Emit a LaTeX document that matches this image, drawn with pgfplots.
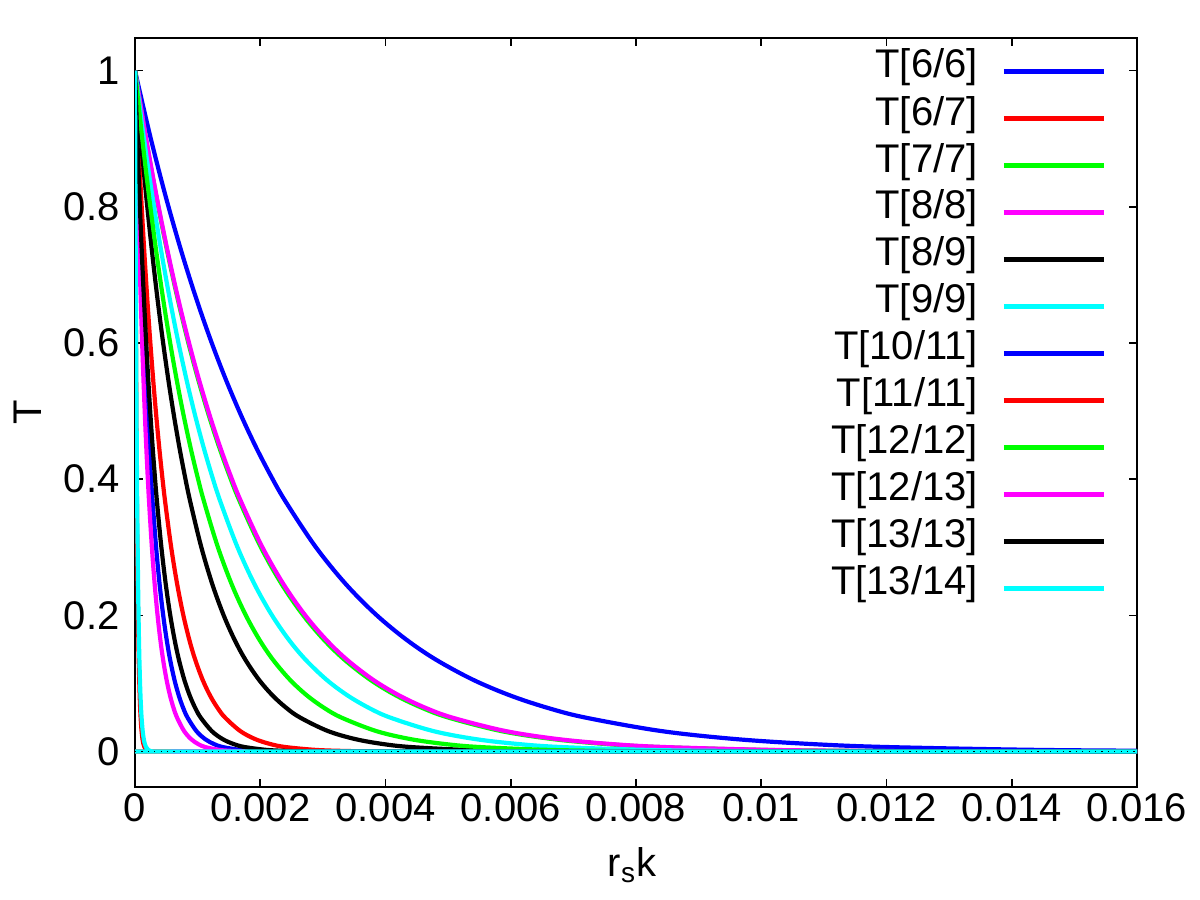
\documentclass[border=0pt]{standalone}
\usepackage{fontspec}
\setmainfont{Liberation Sans}
\usepackage{pgfplots}
\usepackage{pgfplotstable}
\pgfplotsset{compat=1.18}
\definecolor{cblue}{RGB}{0,0,255}
\definecolor{cred}{RGB}{255,0,0}
\definecolor{cgreen}{RGB}{0,255,0}
\definecolor{cmag}{RGB}{255,0,255}
\definecolor{ccyan}{RGB}{0,255,255}
\pgfplotstableread{
T A B C D E F G H I J K L
1 0 0 0 0 0 0 0 0 0 0 0 0
0.9048 0.00024 0.000048 0.000167 0.000169 0.000088 0.000136 0.000028 3e-6 0.00011 2.24e-5 3.5e-5 3.5e-6
0.8187 0.00048 0.000096 0.000334 0.000338 0.000176 0.000272 0.000056 6e-6 0.00022 4.48e-5 7e-5 7e-6
0.7408 0.00072 0.000144 0.000501 0.000507 0.000264 0.000408 0.000084 9e-6 0.00033 6.72e-5 0.000105 1.05e-5
0.6703 0.00096 0.000192 0.000668 0.000676 0.000352 0.000544 0.000112 1.2e-5 0.00044 8.96e-5 0.00014 1.4e-5
0.6065 0.0012 0.00024 0.000835 0.000845 0.00044 0.00068 0.00014 1.5e-5 0.00055 0.000112 0.000175 1.75e-5
0.5488 0.00144 0.000288 0.001002 0.001014 0.000528 0.000816 0.000168 1.8e-5 0.00066 0.0001344 0.00021 2.1e-5
0.4966 0.00168 0.000336 0.001169 0.001183 0.000616 0.000952 0.000196 2.1e-5 0.00077 0.0001568 0.000245 2.45e-5
0.4493 0.00192 0.000384 0.001336 0.001352 0.000704 0.001088 0.000224 2.4e-5 0.00088 0.0001792 0.00028 2.8e-5
0.4066 0.00216 0.000432 0.001503 0.001521 0.000792 0.001224 0.000252 2.7e-5 0.00099 0.0002016 0.000315 3.15e-5
0.3679 0.0024 0.00048 0.00167 0.00169 0.00088 0.00136 0.00028 3e-5 0.0011 0.000224 0.00035 3.5e-5
0.3012 0.00288 0.000576 0.002004 0.002028 0.001056 0.001632 0.000336 3.6e-5 0.00132 0.0002688 0.00042 4.2e-5
0.2466 0.00336 0.000672 0.002338 0.002366 0.001232 0.001904 0.000392 4.2e-5 0.00154 0.0003136 0.00049 4.9e-5
0.2019 0.00384 0.000768 0.002672 0.002704 0.001408 0.002176 0.000448 4.8e-5 0.00176 0.0003584 0.00056 5.6e-5
0.1653 0.00432 0.000864 0.003006 0.003042 0.001584 0.002448 0.000504 5.4e-5 0.00198 0.0004032 0.00063 6.3e-5
0.1353 0.0048 0.00096 0.00334 0.00338 0.00176 0.00272 0.00056 6e-5 0.0022 0.000448 0.0007 7e-5
0.1054 0.0054 0.00108 0.0037575 0.0038025 0.00198 0.00306 0.00063 6.75e-5 0.002475 0.000504 0.0007875 7.875e-5
0.0821 0.006 0.0012 0.004175 0.004225 0.0022 0.0034 0.0007 7.5e-5 0.00275 0.00056 0.000875 8.75e-5
0.0639 0.0066 0.00132 0.0045925 0.0046475 0.00242 0.00374 0.00077 8.25e-5 0.003025 0.000616 0.0009625 9.625e-5
0.0498 0.0072 0.00144 0.00501 0.00507 0.00264 0.00408 0.00084 9e-5 0.0033 0.000672 0.00105 0.000105
0.0302 0.0084 0.00168 0.005845 0.005915 0.00308 0.00476 0.00098 0.000105 0.00385 0.000784 0.001225 0.0001225
0.0183 0.0096 0.00192 0.00668 0.00676 0.00352 0.00544 0.00112 0.00012 0.0044 0.000896 0.0014 0.00014
0.0111 0.0108 0.00216 0.007515 0.007605 0.00396 0.00612 0.00126 0.000135 0.00495 0.001008 0.001575 0.0001575
0.0067 0.012 0.0024 0.00835 0.00845 0.0044 0.0068 0.0014 0.00015 0.0055 0.00112 0.00175 0.000175
0.0025 0.0144 0.00288 0.01002 0.01014 0.00528 0.00816 0.00168 0.00018 0.0066 0.001344 0.0021 0.00021
0.0009 0.0168 0.00336 0.01169 0.01183 0.00616 0.00952 0.00196 0.00021 0.0077 0.001568 0.00245 0.000245
0.0003 0.0192 0.00384 0.01336 0.01352 0.00704 0.01088 0.00224 0.00024 0.0088 0.001792 0.0028 0.00028
0.00005 0.024 0.0048 0.0167 0.0169 0.0088 0.0136 0.0028 0.0003 0.011 0.00224 0.0035 0.00035
0 0.025 0.025 0.025 0.025 0.025 0.025 0.025 0.025 0.025 0.025 0.025 0.025
}\curves
\begin{document}
\begin{tikzpicture}
\useasboundingbox (0,0) rectangle (600pt,450pt);
\begin{axis}[
  at={(67.5pt,56.5pt)}, anchor=south west,
  scale only axis, width=501pt, height=374.5pt,
  xmin=0, xmax=0.016, ymin=-0.052, ymax=1.048,
  xtick={0,0.002,0.004,0.006,0.008,0.01,0.012,0.014,0.016},
  xticklabels={0,0.002,0.004,0.006,0.008,0.01,0.012,0.014,0.016},
  ytick={0,0.2,0.4,0.6,0.8,1},
  yticklabels={0,0.2,0.4,0.6,0.8,1},
  scaled ticks=false,
  tick style={black, line width=0.8pt},
  major tick length=4pt,
  axis line style={line width=1pt},
  every axis plot/.append style={line width=2.1pt, smooth, tension=0.55},
  ticklabel style={font=\fontsize{20}{24}\selectfont},
  xticklabel style={inner sep=0pt, yshift=-3pt},
  yticklabel style={inner sep=0pt, xshift=-7.5pt},
  label style={font=\fontsize{20}{24}\selectfont},
  xlabel={r\textsubscript{s}k}, ylabel={T},
  xlabel style={at={(axis description cs:0.496,-0.104)}, anchor=center},
  ylabel style={at={(axis description cs:-0.1073,0.5)}, anchor=center},
  legend plot pos=right,
  legend cell align=right,
  legend image code/.code={\draw[#1, sharp plot] (0pt,0pt) -- (50pt,0pt);},
  legend style={draw=none, fill=none, at={(1,1)}, anchor=north east,
    xshift=-15.5pt, yshift=-5pt, inner sep=0pt, outer sep=0pt,
    font=\fontsize{20}{24}\selectfont, row sep=0pt, column sep=12pt,
    nodes={inner sep=0pt, text height=15pt, text depth=8.5pt}},
]
\addplot[cblue] table[x=A,y=T]{\curves}; \addlegendentry{T[6/6]}
\addplot[cred] table[x=B,y=T]{\curves}; \addlegendentry{T[6/7]}
\addplot[cgreen] table[x=C,y=T]{\curves}; \addlegendentry{T[7/7]}
\addplot[cmag] table[x=D,y=T]{\curves}; \addlegendentry{T[8/8]}
\addplot[black] table[x=E,y=T]{\curves}; \addlegendentry{T[8/9]}
\addplot[ccyan] table[x=F,y=T]{\curves}; \addlegendentry{T[9/9]}
\addplot[cblue] table[x=G,y=T]{\curves}; \addlegendentry{T[10/11]}
\addplot[cred] table[x=H,y=T]{\curves}; \addlegendentry{T[11/11]}
\addplot[cgreen] table[x=I,y=T]{\curves}; \addlegendentry{T[12/12]}
\addplot[cmag] table[x=J,y=T]{\curves}; \addlegendentry{T[12/13]}
\addplot[black] table[x=K,y=T]{\curves}; \addlegendentry{T[13/13]}
\addplot[ccyan] table[x=L,y=T]{\curves}; \addlegendentry{T[13/14]}
\addplot[black, line width=0.6pt, sharp plot, dash pattern=on 0.6pt off 2.6pt, forget plot] coordinates {(0,0) (0.016,0)};
\end{axis}
\end{tikzpicture}
\end{document}
